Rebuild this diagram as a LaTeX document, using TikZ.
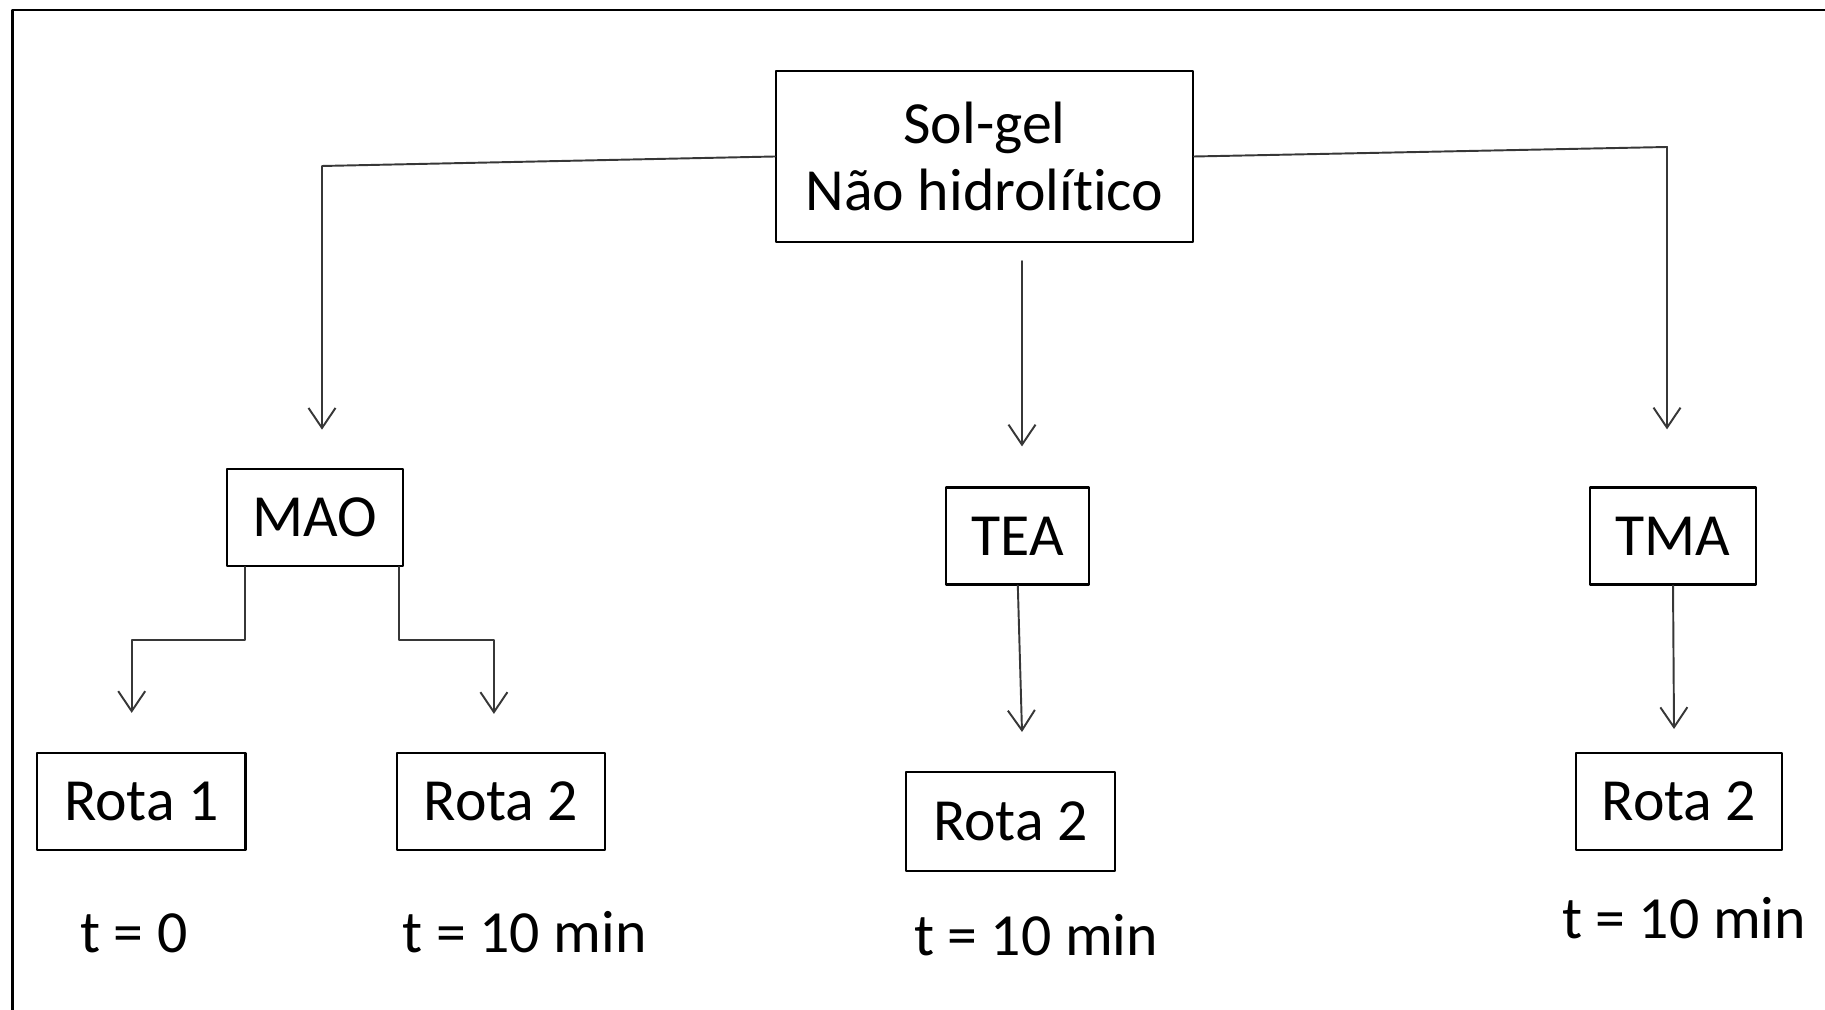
\documentclass[tikz,border=0pt]{standalone}
\usepackage{fontspec}
\setmainfont{Carlito}[Ligatures=NoCommon]
\usetikzlibrary{arrows.meta}
\usetikzlibrary{positioning}

\begin{document}
\begin{tikzpicture}[x=0.01cm, y=-0.01cm, >={Straight Barb[length=2mm, width=2.7mm]}, line cap=round, line join=round, font=\fontsize{17}{19.2}\selectfont]
	
	\definecolor{lineK}{RGB}{55,55,55}
	
	\tikzset{
		box/.style={draw=black, line width=0.6pt, inner sep=0pt, align=center, minimum height=0.97cm},
		arrowK/.style={->, line width=0.55pt, draw=lineK},
		lab/.style={anchor=base},
	}
	
	\useasboundingbox (0,0) rectangle (1825,1010);
	
	% --- frame (top and left edge only)
	\draw[line width=0.75pt] (12.5,1010) -- (12.5,10) -- (1825,10);
	
	% --- top box
	\node[box, minimum width=4.17cm, minimum height=1.71cm] (solgel) at (984.5,156.5) {Sol-gel\\Não hidrolítico};
	
	% --- precursors
	\node[box, minimum width=1.76cm] (mao) at (314.8,517.3) {MAO};
	\node[box, minimum width=1.43cm] (tea) at (1017.8,536) {TEA};
	\node[box, minimum width=1.66cm] (tma) at (1673,536) {TMA};
	
	% --- routes
	\node[box, minimum width=2.08cm] (rota1) at (141.4,801.3) {Rota 1};
	\node[box, minimum width=2.08cm] (rota2a) at (501,801.3) {Rota 2};
	\node[box, minimum width=2.09cm, minimum height=0.99cm] (rota2b) at (1010.3,821.3) {Rota 2};
	\node[box, minimum width=2.06cm] (rota2c) at (1679,801.3) {Rota 2};
	
	% --- times
	\node[lab] (t1) at (133.8,952) {t = 0};
	\node[lab] (t2) at (524.5,952) {t = 10 min};
	\node[lab] (t3) at (1036,955) {t = 10 min};
	\node[lab] (t4) at (1684,938) {t = 10 min};
	
	% --- connectors
	\coordinate (kneeL) at (322,166);
	\coordinate (kneeR) at (1667,147);
	\coordinate (midtop) at (1022,261);
	\coordinate (tipT) at (1022,732);
	\coordinate (tipM) at (1674,729);
	
	\draw[arrowK, shorten >=0.38cm] (solgel.west) -- (kneeL) -- (kneeL |- mao.north);
	\draw[arrowK, shorten >=0.57cm] (solgel.east) -- (kneeR) -- (kneeR |- tma.north);
	\draw[arrowK, shorten >=0.40cm] (midtop) -- (midtop |- tea.north);
	\draw[arrowK] (tea.south) -- (tipT);
	\draw[arrowK] (tma.south) -- (tipM);
	
	\draw[arrowK] (mao.south west) ++(19,0) -- ++(0,73) -| ++(-113,73);
	\draw[arrowK] (mao.south east) ++(-5,0) -- ++(0,73) -| ++(95,74);
	
\end{tikzpicture}
\end{document}
